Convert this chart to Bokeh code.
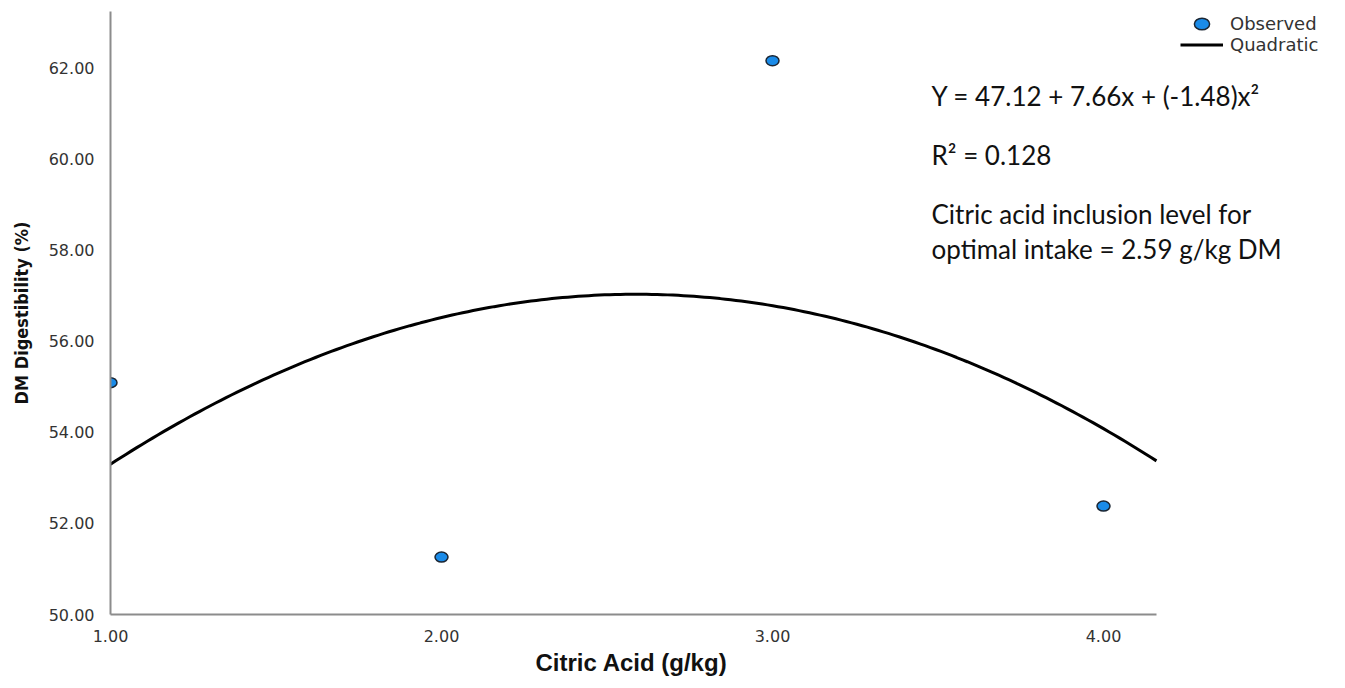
from bokeh.plotting import figure
from bokeh.models import (Label, Range1d, FixedTicker, NumeralTickFormatter,
                          ColumnDataSource, Legend, LegendItem, Title)
from bokeh.embed import file_html
from bokeh.resources import INLINE
import numpy as np

# ---- data ----
citric_acid = [1.0, 2.0, 3.0, 4.0]
dm_digestibility = [55.09, 51.26, 62.16, 52.38]
quad_coef = [47.12, 7.66, -1.48]   # intercept, linear, quadratic
x_ticks = [1, 2, 3, 4]
y_ticks = [50, 52, 54, 56, 58, 60, 62]
annotations = ["Y = 47.12 + 7.66x + (-1.48)x\u00b2",
               "R\u00b2 = 0.128",
               "Citric acid inclusion level for",
               "optimal intake = 2.59 g/kg DM"]

X_MIN, X_AXIS_END = 1.0, 4.16
FRAME_L, FRAME_R, FRAME_T, FRAME_B = 110, 1345, 11, 614
PX_PER_X = 331.0
X_MAX = X_MIN + (FRAME_R - FRAME_L) / PX_PER_X
Y_MIN, Y_MAX = 50.0, 63.24

p = figure(width=1345, height=688, output_backend="svg", toolbar_location=None,
           x_range=Range1d(X_MIN, X_MAX), y_range=Range1d(Y_MIN, Y_MAX),
           min_border_left=FRAME_L, min_border_right=0,
           min_border_top=FRAME_T, min_border_bottom=688 - FRAME_B)
p.outline_line_color = None
p.grid.visible = False

for ax in (p.xaxis[0], p.yaxis[0]):
    ax.axis_line_color = "#8c8c8c"
    ax.axis_line_width = 2
    ax.major_tick_line_color = None
    ax.minor_tick_line_color = None
    ax.major_label_text_font = "DejaVu Sans"
    ax.major_label_text_font_size = "16px"
    ax.major_label_text_color = "#333333"
    ax.formatter = NumeralTickFormatter(format="0.00")

p.xaxis.ticker = FixedTicker(ticks=x_ticks)
p.yaxis.ticker = FixedTicker(ticks=y_ticks)
p.xaxis.bounds = (X_MIN, X_AXIS_END)
p.xaxis.major_label_standoff = 9
p.yaxis.major_label_standoff = 10

p.yaxis.axis_label = "DM Digestibility (%)"
p.yaxis.axis_label_text_font = "DejaVu Sans Condensed"
p.yaxis.axis_label_text_font_style = "bold"
p.yaxis.axis_label_text_font_size = "18px"
p.yaxis.axis_label_text_color = "#111111"
p.yaxis.axis_label_standoff = 14

p.add_layout(Title(text="Citric Acid (g/kg)", align="left", offset=425,
                   text_font="Liberation Sans", text_font_style="bold",
                   text_font_size="24px", text_color="#111111", standoff=4), "below")

# ---- fitted curve ----
xs = np.linspace(X_MIN, X_AXIS_END, 200)
ys = quad_coef[0] + quad_coef[1] * xs + quad_coef[2] * xs ** 2
r_line = p.line(xs, ys, line_color="black", line_width=3)

src = ColumnDataSource(dict(x=citric_acid, y=dm_digestibility))
r_pts = p.ellipse("x", "y", source=src, width=13, height=10,
                  width_units="screen", height_units="screen",
                  fill_color="#1a8be8", line_color="#1b2633", line_width=1.5)

legend = Legend(items=[LegendItem(label="Observed", renderers=[r_pts]),
                       LegendItem(label="Quadratic", renderers=[r_line])],
                location=(1180 - FRAME_L, FRAME_B - 55),
                border_line_color=None, background_fill_alpha=0,
                label_text_font="DejaVu Sans", label_text_font_size="18px",
                label_text_color="#333333", spacing=0, padding=0, margin=0,
                glyph_width=43, glyph_height=19, label_height=19, label_standoff=7)
p.add_layout(legend, "center")

# ---- text annotations ----
ann_y = [95, 154, 213, 248]
for t, yy in zip(annotations, ann_y):
    p.add_layout(Label(x=931 - FRAME_L, y=FRAME_B - yy, x_units="screen", y_units="screen",
                       text=t, text_font="Lato", text_font_size="26px",
                       text_baseline="middle", text_color="#111111"))

open("out.html", "w").write(file_html(p, INLINE))
